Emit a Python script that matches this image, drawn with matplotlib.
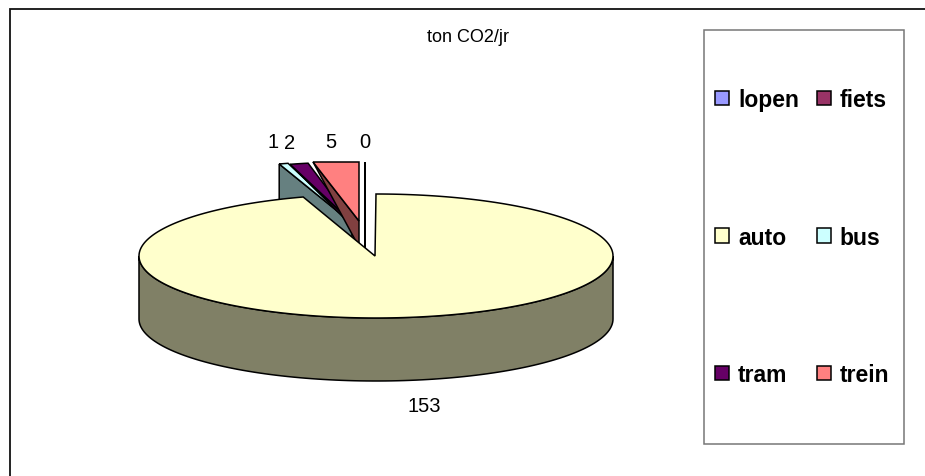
import numpy as np
import matplotlib
matplotlib.use("Agg")
import matplotlib.pyplot as plt
from matplotlib.patches import Polygon, Rectangle, Patch

plt.rcParams['font.family'] = ['Liberation Sans', 'DejaVu Sans']

categories = ["lopen", "fiets", "auto", "bus", "tram", "trein"]
values = [0, 0, 153, 1, 2, 5]
point_labels = ["0", "", "153", "1", "2", "5"]

colors = {"lopen": "#9999FF", "fiets": "#993366", "auto": "#FFFFCC",
          "bus": "#CCFFFF", "tram": "#660066", "trein": "#FF8080"}
walls = {"lopen": "#4D4D80", "fiets": "#4D1A33", "auto": "#808066",
         "bus": "#668080", "tram": "#330033", "trein": "#804040"}
# explosion offset (px), wall depth at outer rim and at apex
explode = {"lopen": (-10, -35), "fiets": (-10, -35), "bus": (-23, -33),
           "tram": (-21, -32), "trein": (-16, -35)}
wall_depth = {"lopen": (0, 30), "fiets": (0, 30), "bus": (63, 63),
              "tram": (0, 4), "trein": (0, 26)}
label_pos = {"lopen": (365, 143), "auto": (424, 407), "bus": (273, 143),
             "tram": (290, 144), "trein": (331, 143)}

CX, CY, RX, RY, DEPTH = 376, 257, 237, 62, 63
CLIP_TOP = 163
LW = 1.1

fig = plt.figure(figsize=(9.25, 4.77), dpi=100)
ax = fig.add_axes([0, 0, 1, 1])
ax.set_xlim(0, 925)
ax.set_ylim(477, 0)
ax.axis("off")


def rim(a, cx=CX, cy=CY):
    a = np.radians(a)
    return np.column_stack([cx + RX * np.sin(a), cy - RY * np.cos(a)])


# frame
ax.plot([9.5, 9.5, 925], [477, 9.5, 9.5], color="#111111", lw=1.3, solid_joinstyle="miter")

total = sum(values)
angles = np.cumsum([0] + values) / total * 360

# exploded small slices, back to front; their tops are cut flat by the plot area
for name in ["lopen", "fiets", "bus", "tram", "trein"]:
    i = categories.index(name)
    a0, a1 = angles[i], angles[i + 1]
    if values[i] == 0:
        a0 = a1 = 360
    dx, dy = explode[name]
    ax_, ay_ = CX - 1 + dx, CY + dy
    d_out, d_in = wall_depth[name]
    arc = rim(np.linspace(a0, a1, 12), ax_, ay_)
    arc[:, 1] = np.maximum(arc[:, 1], CLIP_TOP)
    wall = Polygon([arc[0], (ax_, ay_), (ax_, ay_ + d_in), (arc[0][0], arc[0][1] + d_out)],
                   closed=True, fc=walls[name], ec="black", lw=LW, zorder=2)
    top = Polygon(np.vstack([[(ax_, ay_)], arc]), closed=True, fc=colors[name],
                  ec="black", lw=LW, zorder=2, joinstyle="miter")
    ax.add_patch(wall)
    ax.add_patch(top)

# main slice
i = categories.index("auto")
a0, a1 = angles[i], angles[i + 1]
front = rim(np.linspace(90, 270, 120))
ax.add_patch(Polygon(np.vstack([front, (front + [0, DEPTH])[::-1]]), closed=True,
                     fc=walls["auto"], ec="black", lw=LW, zorder=3))
arc = rim(np.linspace(a0, a1, 240))
ax.add_patch(Polygon(np.vstack([[(CX - 1, CY)], arc]), closed=True, fc=colors["auto"],
                     ec="black", lw=LW, zorder=4, joinstyle="miter"))

# labels
for name, (x, y) in label_pos.items():
    lab = point_labels[categories.index(name)]
    ax.text(x, y, lab, ha="center", va="center", fontsize=14.5, color="black", zorder=5)
ax.text(468, 37, "ton CO2/jr", ha="center", va="center", fontsize=13, color="black")

# legend box and legend; columns fill top-down
ax.add_patch(Rectangle((703.5, 31), 200, 414, fc="white", ec="#777777", lw=LW, zorder=5))
fs = 16.5
handles = [Patch(fc=colors[c], ec="black", lw=LW, label=c)
           for c in ["lopen", "auto", "tram", "fiets", "bus", "trein"]]
leg = ax.legend(handles=handles, ncols=2, loc="upper left",
                bbox_to_anchor=(715 / 925, 1 - 89 / 477), bbox_transform=ax.transAxes,
                prop={"size": fs, "weight": "bold"}, frameon=False, borderaxespad=0,
                borderpad=0, labelspacing=5.0, handlelength=0.61, handleheight=0.61,
                handletextpad=0.39, columnspacing=0.78)
leg.set_zorder(6)

fig.savefig("out.png", dpi=100)
